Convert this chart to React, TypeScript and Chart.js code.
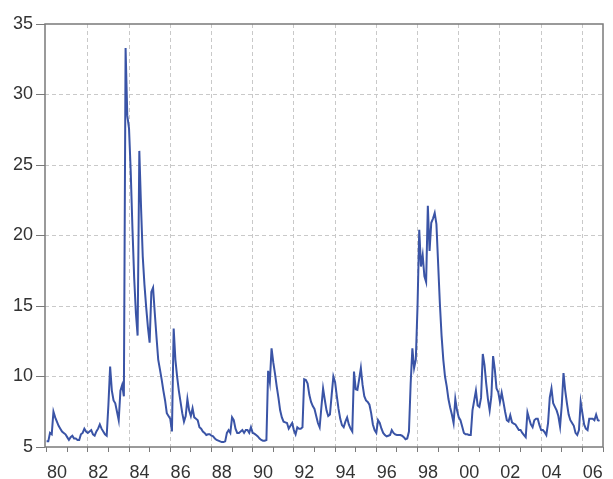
import React, { useEffect, useRef } from "react";
import { Chart, registerables } from "chart.js";

Chart.register(...registerables);

const startYear = 1980;
const firstLabelYear = 1980;
const lastTickYear = 2007;
const yTicks = [5, 10, 15, 20, 25, 30, 35];

// Monthly values, Jan 1980 .. Nov 2006
const rates: number[] = [
  // 1980
  5.4, 5.4, 6.0, 5.9, 7.5, 7.1, 6.8, 6.5, 6.3, 6.1, 6.0, 5.9,
  // 1981
  5.7, 5.5, 5.7, 5.8, 5.6, 5.6, 5.5, 5.5, 5.9, 6.0, 6.3, 6.1,
  // 1982
  6.0, 6.1, 6.2, 5.9, 5.8, 6.1, 6.3, 6.6, 6.3, 6.1, 5.9, 5.8,
  // 1983
  8.0, 10.7, 9.0, 8.3, 8.1, 7.5, 6.9, 9.0, 9.4, 8.6, 33.3, 28.5,
  // 1984
  27.6, 24.5, 20.5, 17.0, 14.5, 12.9, 26.0, 22.0, 18.5, 16.5, 14.9, 13.5,
  // 1985
  12.4, 16.0, 16.3, 14.5, 12.8, 11.2, 10.5, 9.8, 9.0, 8.3, 7.4, 7.2,
  // 1986
  7.0, 6.1, 13.4, 11.2, 10.0, 9.0, 8.2, 7.4, 6.8, 7.2, 8.4, 7.6,
  // 1987
  7.2, 7.75, 7.1, 7.0, 6.9, 6.4, 6.3, 6.1, 6.0, 5.85, 5.9, 5.9,
  // 1988
  5.8, 5.75, 5.6, 5.5, 5.45, 5.4, 5.35, 5.35, 5.4, 6.0, 6.2, 6.0,
  // 1989
  7.1, 6.9, 6.3, 6.0, 6.0, 6.1, 6.2, 6.0, 6.2, 6.2, 6.0, 6.4,
  // 1990
  6.0, 5.95, 5.85, 5.75, 5.6, 5.5, 5.45, 5.45, 5.5, 10.4, 9.6, 12.0,
  // 1991
  11.0, 10.2, 9.3, 8.5, 7.6, 7.1, 6.8, 6.75, 6.7, 6.3, 6.5, 6.7,
  // 1992
  6.2, 5.9, 6.4, 6.3, 6.3, 6.4, 9.8, 9.75, 9.5, 8.7, 8.2, 7.9,
  // 1993
  7.7, 7.2, 6.7, 6.4, 7.8, 9.15, 8.35, 7.6, 7.2, 7.3, 8.7, 10.0,
  // 1994
  9.6, 8.6, 7.7, 7.0, 6.55, 6.4, 6.8, 7.1, 6.6, 6.3, 6.1, 10.35,
  // 1995
  9.1, 9.05, 9.8, 10.6, 9.4, 8.6, 8.3, 8.2, 8.0, 7.4, 6.6, 6.2,
  // 1996
  6.0, 6.9, 6.7, 6.3, 6.0, 5.85, 5.75, 5.8, 5.85, 6.2, 6.0, 5.9,
  // 1997
  5.85, 5.85, 5.85, 5.8, 5.7, 5.55, 5.6, 6.1, 9.5, 12.0, 10.6, 11.2,
  // 1998
  15.0, 20.4, 17.8, 18.6, 17.1, 16.7, 22.1, 18.9, 20.9, 21.2, 21.6, 20.8,
  // 1999
  18.0, 15.2, 12.9, 11.2, 10.0, 9.3, 8.4, 7.8, 7.3, 6.7, 8.4, 7.6,
  // 2000
  7.1, 6.9, 6.45, 6.0, 5.9, 5.9, 5.85, 5.85, 7.6, 8.3, 9.0, 7.95,
  // 2001
  7.85, 8.5, 11.6, 10.8, 9.5, 8.4, 7.6, 8.6, 11.45, 10.5, 9.15, 8.9,
  // 2002
  8.2, 8.85, 8.2, 7.5, 6.9, 6.8, 7.25, 6.75, 6.65, 6.6, 6.4, 6.2,
  // 2003
  6.2, 6.0, 5.85, 5.7, 7.45, 7.0, 6.6, 6.4, 6.9, 7.0, 7.0, 6.55,
  // 2004
  6.2, 6.2, 6.05, 5.85, 6.7, 8.5, 9.15, 8.1, 7.85, 7.6, 7.2, 6.45,
  // 2005
  8.0, 10.25, 9.0, 8.1, 7.3, 6.9, 6.7, 6.5, 6.0, 5.85, 6.2, 8.2,
  // 2006
  7.4, 6.6, 6.3, 6.2, 7.0, 7.0, 7.0, 6.9, 7.3, 6.9, 6.85,
];

const points = rates.map((v, i) => ({ x: startYear + i / 12, y: v }));

const framePlugin = {
  id: "frame",
  beforeDatasetsDraw(chart: any) {
    const { ctx, chartArea } = chart;
    ctx.save();
    ctx.strokeStyle = "#7a7a7a";
    ctx.lineWidth = 1.5;
    ctx.strokeRect(
      chartArea.left,
      chartArea.top,
      chartArea.right - chartArea.left,
      chartArea.bottom - chartArea.top
    );
    ctx.restore();
  },
};

export default function App() {
  const ref = useRef<HTMLCanvasElement>(null);
  useEffect(() => {
    const canvas = ref.current;
    if (!canvas) return;
    const font = { family: "'Liberation Sans', Arial, sans-serif", size: 18 };
    const chart = new Chart(canvas, {
      type: "line",
      data: {
        datasets: [
          {
            data: points,
            borderColor: "#3a54a6",
            borderWidth: 2,
            pointRadius: 0,
            tension: 0,
            fill: false,
          },
        ],
      },
      options: {
        responsive: false,
        animation: false,
        parsing: false,
        layout: { padding: { left: 0, top: 24, right: 3, bottom: 0 } },
        plugins: {
          legend: { display: false },
          tooltip: { enabled: false },
        },
        scales: {
          x: {
            type: "linear",
            min: startYear - 0.077,
            max: lastTickYear,
            afterBuildTicks: (scale: any) => {
              const t = [];
              for (let y = firstLabelYear; y <= lastTickYear; y++) t.push({ value: y });
              scale.ticks = t;
            },
            afterFit: (scale: any) => {
              scale.height = 32;
            },
            ticks: {
              autoSkip: false,
              maxRotation: 0,
              padding: 10,
              labelOffset: 10.4,
              color: "#333",
              font,
              callback: (v: any) => {
                const y = Number(v);
                if (y % 2 !== 0 || y >= lastTickYear) return "";
                return String(y % 100).padStart(2, "0");
              },
            },
            grid: {
              color: (c: any) => {
                const v = c.tick ? c.tick.value : 0;
                return v % 2 === 0 && v > firstLabelYear && v < lastTickYear ? "#c9c9c9" : "rgba(0,0,0,0)";
              },
              lineWidth: 1,
              tickColor: "#7a7a7a",
              tickLength: 5,
              tickWidth: 1,
            },
            border: { display: false, dash: [4, 3] },
          },
          y: {
            type: "linear",
            min: yTicks[0],
            max: yTicks[yTicks.length - 1],
            afterBuildTicks: (scale: any) => {
              scale.ticks = yTicks.map((v) => ({ value: v }));
            },
            afterFit: (scale: any) => {
              scale.width = 45;
            },
            ticks: {
              padding: 3,
              color: "#333",
              font,
            },
            grid: {
              color: (c: any) => {
                const v = c.tick ? c.tick.value : 0;
                return v > yTicks[0] && v < yTicks[yTicks.length - 1] ? "#c9c9c9" : "rgba(0,0,0,0)";
              },
              lineWidth: 1,
              tickColor: "#7a7a7a",
              tickLength: 9,
              tickWidth: 1,
            },
            border: { display: false, dash: [4, 3] },
          },
        },
      },
      plugins: [framePlugin],
    });
    return () => chart.destroy();
  }, []);
  return (
    <div style={{ position: "fixed", left: 0, top: 0, width: 613, height: 479, background: "#fff" }}>
      <canvas ref={ref} width={613} height={479} />
    </div>
  );
}
